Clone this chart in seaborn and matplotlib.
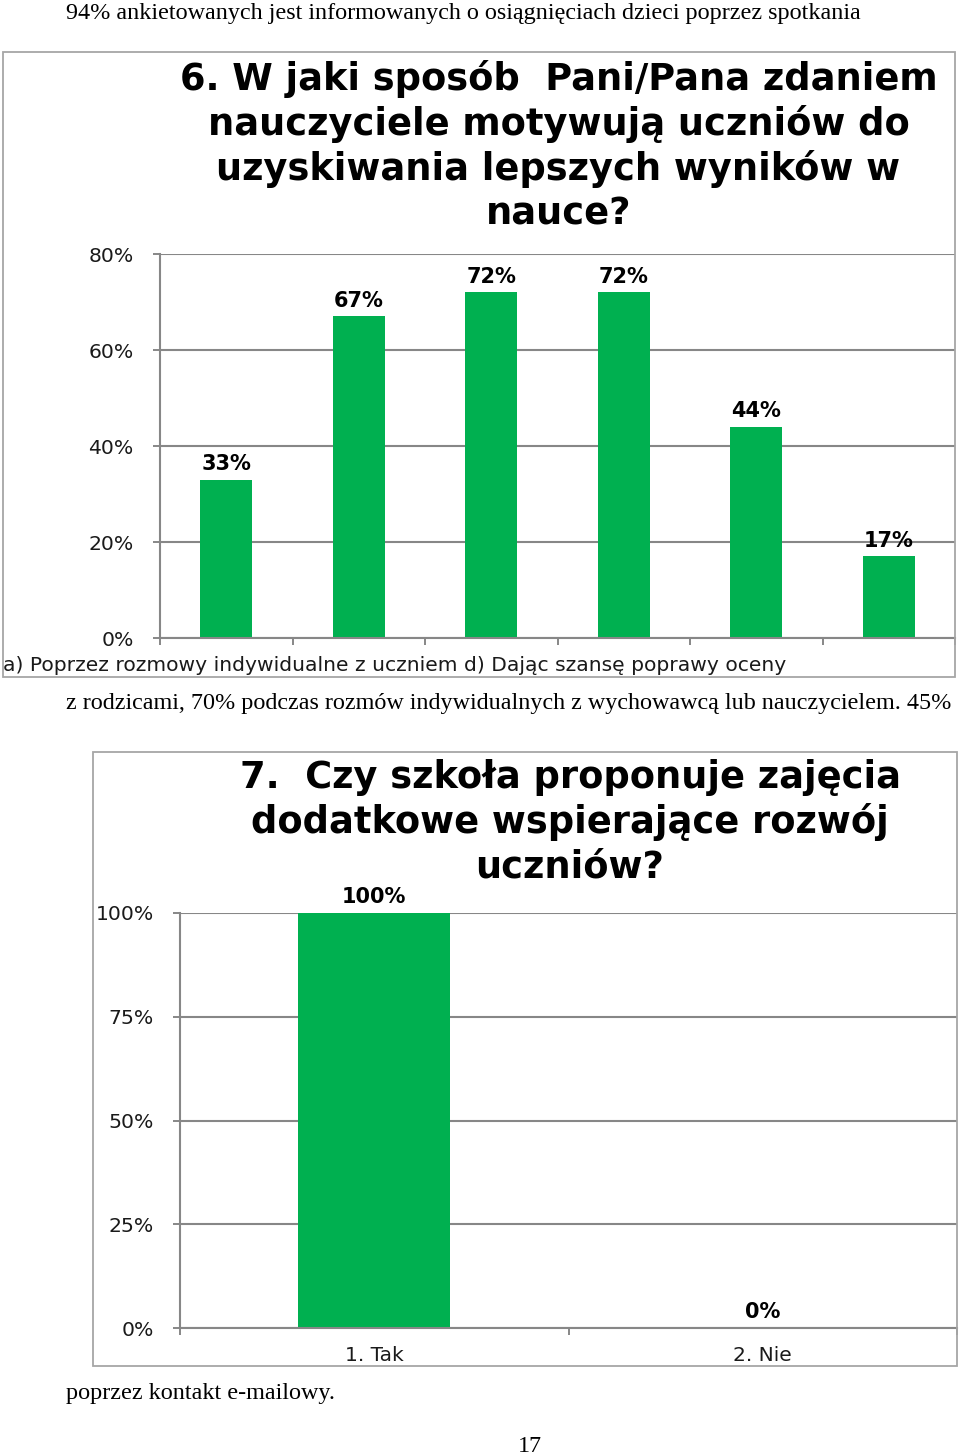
import matplotlib
matplotlib.use("Agg")
import matplotlib.pyplot as plt
import seaborn as sns
import pandas as pd
from matplotlib.patches import Rectangle

# ---------------- data ----------------
intro_text = "94% ankietowanych jest informowanych o osiągnięciach dzieci poprzez spotkania"
middle_text = "z rodzicami, 70% podczas rozmów indywidualnych z wychowawcą lub nauczycielem. 45%"
closing_text = "poprzez kontakt e-mailowy."
page_number = "17"

q6_title = "6. W jaki sposób  Pani/Pana zdaniem\nnauczyciele motywują uczniów do\nuzyskiwania lepszych wyników w\nnauce?"
q6_categories = ["a)", "b)", "c)", "d)", "e)", "f)"]
q6_values = [0.33, 0.67, 0.72, 0.72, 0.44, 0.17]
q6_value_labels = ["33%", "67%", "72%", "72%", "44%", "17%"]
q6_axis_label = "a) Poprzez rozmowy indywidualne z uczniem d) Dając szansę poprawy oceny"
q6_yticks = [0, 0.2, 0.4, 0.6, 0.8]
q6_yticklabels = ["0%", "20%", "40%", "60%", "80%"]

q7_title = "7.  Czy szkoła proponuje zajęcia\ndodatkowe wspierające rozwój\nuczniów?"
q7_categories = ["1. Tak", "2. Nie"]
q7_values = [1.00, 0.00]
q7_value_labels = ["100%", "0%"]
q7_yticks = [0, 0.25, 0.5, 0.75, 1.0]
q7_yticklabels = ["0%", "25%", "50%", "75%", "100%"]

# ---------------- style ----------------
W, H = 960, 1455
GREEN = "#00B050"
GRID = "#878787"
FRAME = "#a6a6a6"
SANS = ["DejaVu Sans"]
SERIF = ["Liberation Serif", "DejaVu Serif"]

sns.set_theme(style="white")
plt.rcParams["font.family"] = SANS

fig = plt.figure(figsize=(W / 100, H / 100), dpi=100)
fig.patch.set_facecolor("white")


def fx(x):
    return x / W


def fy(y):
    return 1 - y / H


def add_axes_px(left, top, right, bottom):
    return fig.add_axes([fx(left), fy(bottom), (right - left) / W, (bottom - top) / H])


def frame_px(left, top, right, bottom):
    fig.patches.append(Rectangle((fx(left), fy(bottom)), (right - left) / W, (bottom - top) / H,
                                 transform=fig.transFigure, fill=False, edgecolor=FRAME,
                                 linewidth=1.3, zorder=0))


def style_axes(ax, cats, yticks, yticklabels, show_xlabels):
    n = len(cats)
    ax.set_xlim(-0.5, n - 0.5)
    ax.set_ylim(yticks[0], yticks[-1])
    ax.set_yticks(yticks)
    ax.set_yticklabels(yticklabels, fontsize=14.7, color="#1a1a1a")
    ax.set_xticks(range(n))
    if show_xlabels:
        ax.set_xticklabels(cats, fontsize=14.5, color="#1a1a1a")
    else:
        ax.set_xticklabels([""] * n)
    ax.set_xticks([i - 0.5 for i in range(n + 1)], minor=True)
    ax.tick_params(axis="x", which="major", bottom=True, length=0, pad=13)
    ax.tick_params(axis="x", which="minor", bottom=True, length=5, width=1.4, color=GRID, direction="out")
    ax.tick_params(axis="y", which="major", left=True, length=5, width=1.4, color=GRID, direction="out", pad=14)
    ax.set_xlabel("")
    ax.set_ylabel("")
    ax.yaxis.grid(True, color=GRID, linewidth=1.5)
    ax.xaxis.grid(False)
    ax.set_axisbelow(True)
    for s in ["top", "right"]:
        ax.spines[s].set_visible(False)
    for s in ["left", "bottom"]:
        ax.spines[s].set_color(GRID)
        ax.spines[s].set_linewidth(1.5)
    ax.patch.set_alpha(0)


def label_bars(ax, labels):
    texts = ax.bar_label(ax.containers[0], labels=labels, padding=4,
                         fontsize=15, fontweight="bold", color="black")
    for t in texts:
        t.set_annotation_clip(False)


# ---------------- page text ----------------
fig.text(fx(66), fy(13), intro_text, family=SERIF, fontsize=17.4, ha="left", va="center", color="black")
fig.text(fx(66), fy(703), middle_text, family=SERIF, fontsize=17.4, ha="left", va="center", color="black")
fig.text(fx(66), fy(1393), closing_text, family=SERIF, fontsize=17.4, ha="left", va="center", color="black")
fig.text(fx(530), fy(1446), page_number, family=SERIF, fontsize=17.4, ha="center", va="center", color="black")

# ---------------- chart 6 ----------------
frame_px(3, 52, 955, 677)
ax1 = add_axes_px(160, 254, 955, 638)
df6 = pd.DataFrame({"kategoria": q6_categories, "odsetek": q6_values})
sns.barplot(data=df6, x="kategoria", y="odsetek", color=GREEN, saturation=1,
            width=0.39, linewidth=0, ax=ax1)
style_axes(ax1, q6_categories, q6_yticks, q6_yticklabels, show_xlabels=False)
label_bars(ax1, q6_value_labels)
fig.text(fx(3), fy(666), q6_axis_label, fontsize=14.6, ha="left", va="center", color="#1a1a1a")
fig.text(fx(558.5), fy(146), q6_title, fontsize=26.5, fontweight="bold", ha="center", va="center",
         linespacing=1.24, color="black")

# ---------------- chart 7 ----------------
frame_px(93, 752, 957, 1366)
ax2 = add_axes_px(180, 913, 957, 1328)
df7 = pd.DataFrame({"kategoria": q7_categories, "odsetek": q7_values})
sns.barplot(data=df7, x="kategoria", y="odsetek", color=GREEN, saturation=1,
            width=0.39, linewidth=0, ax=ax2)
style_axes(ax2, q7_categories, q7_yticks, q7_yticklabels, show_xlabels=True)
label_bars(ax2, q7_value_labels)
fig.text(fx(570), fy(822), q7_title, fontsize=26.5, fontweight="bold", ha="center", va="center",
         linespacing=1.24, color="black")

fig.savefig("out.png", dpi=100, facecolor="white")
